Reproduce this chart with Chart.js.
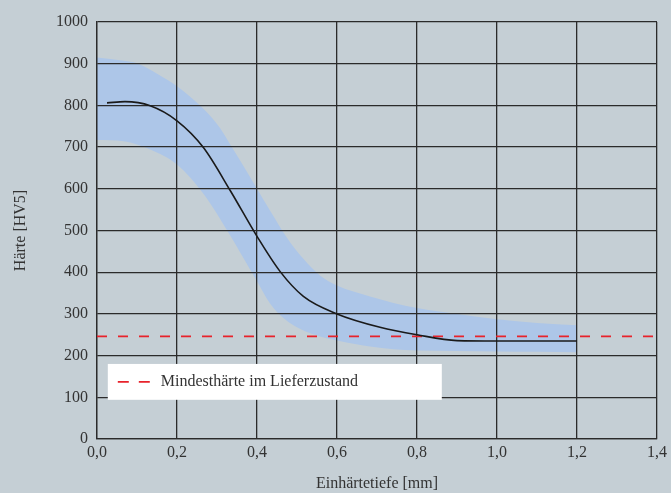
<!DOCTYPE html>
<html>
<head>
<meta charset="utf-8">
<script src="https://cdn.jsdelivr.net/npm/chart.js@4/dist/chart.umd.min.js"></script>
<style>
  html, body { margin: 0; padding: 0; background: #c5cfd5; }
  #wrap { width: 671px; height: 493px; position: relative; }
</style>
</head>
<body>
<div id="wrap"><canvas id="c" width="671" height="493"></canvas></div>
<script>
// ---- data ----
const upperX    = [0, 0.067, 0.1, 0.1575, 0.2, 0.266, 0.3075, 0.337, 0.374, 0.4, 0.4325, 0.474, 0.516, 0.5575, 0.6, 0.6825, 0.8, 0.9, 1.0, 1.1, 1.2];
const bandUpper = [915, 907, 901, 872, 846, 792, 746, 700, 642, 600, 548, 484, 432, 392, 368, 342, 314, 300, 287, 278, 273];

const lowerX    = [0, 0.067, 0.133, 0.2, 0.266, 0.333, 0.383, 0.4, 0.4325, 0.466, 0.516, 0.5575, 0.6, 0.6825, 0.8, 0.9, 1.0, 1.1, 1.2];
const bandLower = [717, 714, 694, 658, 588, 488, 406, 378, 325, 290, 260, 246, 236, 222, 212, 211, 210, 209, 208];

const curveX    = [0.025, 0.07, 0.133, 0.2, 0.266, 0.333, 0.4, 0.4575, 0.516, 0.6, 0.7075, 0.8, 0.9, 1.0, 1.2];
const curveY    = [806, 809, 799, 763, 699, 596, 486, 402, 342, 300, 268, 250, 236, 235, 235];

const minHardness = 246;
const minX = [0, 1.4];

const xTickLabels = ['0,0', '0,2', '0,4', '0,6', '0,8', '1,0', '1,2', '1,4'];
const yTickLabels = ['0', '100', '200', '300', '400', '500', '600', '700', '800', '900', '1000'];

const legendLabel = 'Mindesthärte im Lieferzustand';
const xTitle = 'Einhärtetiefe [mm]';
const yTitle = 'Härte [HV5]';

// ---- chart ----
const pts = (xs, ys) => xs.map((x, i) => ({ x: x, y: ys[i] }));
const FONT = "'Liberation Serif', 'Times New Roman', serif";
const TXT = '#333333';
const GRID = '#2b2b2b';
const RED = '#e8222b';

const legendPlugin = {
  id: 'boxLegend',
  afterDraw(chart) {
    const { ctx, scales: { x, y } } = chart;
    const l = x.getPixelForValue(0.027), r = x.getPixelForValue(0.862);
    const t = y.getPixelForValue(180), b = y.getPixelForValue(94);
    ctx.save();
    ctx.fillStyle = '#ffffff';
    ctx.fillRect(l, t, r - l, b - t);
    const cy = (t + b) / 2;
    ctx.strokeStyle = RED;
    ctx.lineWidth = 1.6;
    ctx.beginPath();
    ctx.moveTo(l + 10, cy); ctx.lineTo(l + 21, cy);
    ctx.moveTo(l + 31, cy); ctx.lineTo(l + 42, cy);
    ctx.stroke();
    ctx.fillStyle = TXT;
    ctx.font = "16px " + FONT;
    ctx.textBaseline = 'middle';
    ctx.fillText(legendLabel, l + 53, cy);
    ctx.restore();
  }
};

new Chart(document.getElementById('c'), {
  type: 'line',
  data: {
    datasets: [
      { label: 'upper', data: pts(upperX, bandUpper), borderWidth: 0, pointRadius: 0,
        backgroundColor: '#adc6e8', fill: '+1', cubicInterpolationMode: 'monotone' },
      { label: 'lower', data: pts(lowerX, bandLower), borderWidth: 0, pointRadius: 0,
        fill: false, cubicInterpolationMode: 'monotone' },
      { label: 'curve', data: pts(curveX, curveY), borderColor: '#1a1a1a', borderWidth: 1.6,
        pointRadius: 0, fill: false, cubicInterpolationMode: 'monotone' },
      { label: legendLabel, data: pts(minX, [minHardness, minHardness]), borderColor: RED,
        borderWidth: 1.6, borderDash: [10, 11], pointRadius: 0, fill: false }
    ]
  },
  options: {
    responsive: false,
    animation: false,
    layout: { padding: { top: 22, right: 13, left: 0, bottom: 0 } },
    plugins: {
      legend: { display: false },
      tooltip: { enabled: false },
      filler: { drawTime: 'beforeDraw' }
    },
    scales: {
      x: {
        type: 'linear', min: 0, max: 1.4,
        afterBuildTicks(s) { s.ticks = xTickLabels.map((_, i) => ({ value: i * 0.2 })); },
        afterFit(s) { s.height = 54; },
        ticks: {
          padding: 4, color: TXT, font: { family: FONT, size: 16 },
          callback: (v, i) => xTickLabels[i]
        },
        grid: { color: GRID, lineWidth: 1.3, drawTicks: false },
        border: { color: GRID, width: 1.3 },
        title: { display: true, text: xTitle, color: TXT, font: { family: FONT, size: 16 },
                 padding: { top: 0, bottom: 0 } }
      },
      y: {
        type: 'linear', min: 0, max: 1000,
        afterBuildTicks(s) { s.ticks = yTickLabels.map((_, i) => ({ value: i * 100 })); },
        afterFit(s) { s.width = 97; },
        ticks: {
          padding: 9, color: TXT, font: { family: FONT, size: 16 },
          callback: (v, i) => yTickLabels[i]
        },
        grid: { color: GRID, lineWidth: 1.3, drawTicks: false },
        border: { color: GRID, width: 1.3 },
        title: { display: true, text: yTitle, color: TXT, font: { family: FONT, size: 16 },
                 padding: { top: 11, bottom: 0 } }
      }
    }
  },
  plugins: [legendPlugin]
});
</script>
</body>
</html>
